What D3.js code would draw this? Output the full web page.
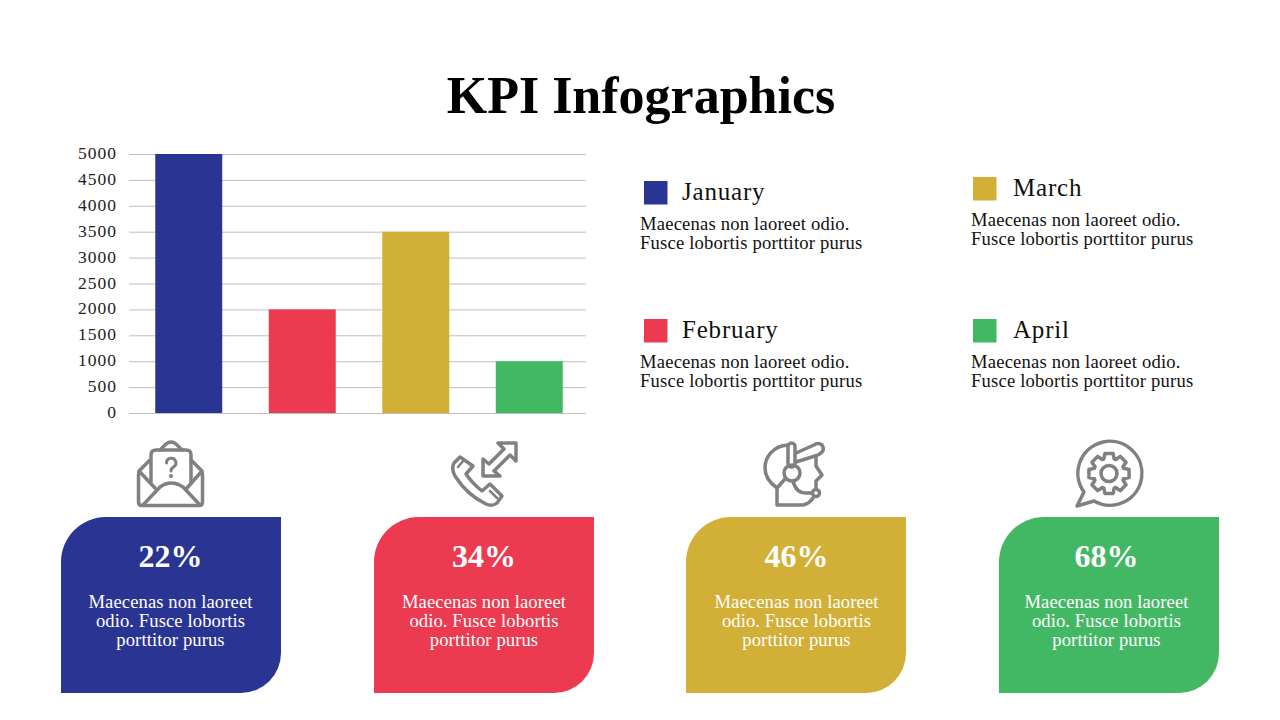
<!DOCTYPE html>
<html>
<head>
<meta charset="utf-8">
<script src="https://cdn.jsdelivr.net/npm/d3@7"></script>
<style>
html, body { margin: 0; padding: 0; background: #fff; }
svg { display: block; }
text { font-family: "Liberation Serif", serif; }
</style>
</head>
<body>
<div id="chart"></div>
<script>
var months = ['January', 'February', 'March', 'April'];
var values = [5000, 2000, 3500, 1000];
var yTicks = [0, 500, 1000, 1500, 2000, 2500, 3000, 3500, 4000, 4500, 5000];
var colors = ['#2a3593', '#ec3a50', '#d2af36', '#43b864'];
var percents = ['22%', '34%', '46%', '68%'];
var legendLines = ['Maecenas non laoreet odio.', 'Fusce lobortis porttitor purus'];
var cardLines = ['Maecenas non laoreet', 'odio. Fusce lobortis', 'porttitor purus'];

var svg = d3.select('#chart').append('svg').attr('width', 1280).attr('height', 720);

svg.append('text')
	.attr('x', 641).attr('y', 113)
	.attr('text-anchor', 'middle')
	.attr('font-size', 52).attr('font-weight', 'bold')
	.attr('fill', '#000')
	.text('KPI Infographics');

// bar chart
var x = d3.scaleBand().domain(months).range([132, 586]).paddingInner(0.41).paddingOuter(0.205);
var y = d3.scaleLinear().domain([0, 5000]).range([413, 154]);

var yAxis = d3.axisLeft(y).tickValues(yTicks).tickSize(457).tickPadding(12).tickFormat(d3.format('d'));
var axisG = svg.append('g').attr('transform', 'translate(586,0)').call(yAxis);
axisG.select('.domain').remove();
axisG.selectAll('.tick line').attr('stroke', '#bfbfbf').attr('stroke-width', 1);
axisG.selectAll('.tick text')
	.attr('font-family', '"Liberation Serif", serif')
	.attr('font-size', 17.5).attr('letter-spacing', 1).attr('fill', '#222')
	.attr('dy', '0.26em');

svg.selectAll('.bar').data(values).enter().append('rect')
	.attr('class', 'bar')
	.attr('x', (d, i) => x(months[i]))
	.attr('y', d => y(d))
	.attr('width', x.bandwidth())
	.attr('height', d => y(0) - y(d))
	.attr('fill', (d, i) => colors[i]);

// legend blocks
var legendX = [644, 644, 973, 973];
var legendY = [181, 319, 177, 319];
var legendG = svg.selectAll('.legend').data(months).enter().append('g').attr('class', 'legend')
	.attr('transform', (d, i) => `translate(${legendX[i]},${legendY[i]})`);
legendG.append('rect')
	.attr('width', 23.5).attr('height', 23.5)
	.attr('fill', (d, i) => colors[i]);
legendG.append('text')
	.attr('x', (d, i) => i < 2 ? 38 : 40).attr('y', 19)
	.attr('font-size', 25).attr('letter-spacing', 0.8).attr('fill', '#111')
	.text(d => d);
legendLines.forEach(function(line, k) {
	legendG.append('text')
		.attr('x', (d, i) => i < 2 ? -4 : -2).attr('y', 49 + k * 19)
		.attr('font-size', 18.6).attr('letter-spacing', 0.2).attr('fill', '#111')
		.text(line);
});

// cards
var cardX = [61, 374, 686, 999];
var cardCx = [170.5, 484, 796.5, 1106.5];
var cardG = svg.selectAll('.card').data(percents).enter().append('g').attr('class', 'card');
cardG.append('path')
	.attr('d', (d, i) => {
		var l = cardX[i], r = l + 220;
		return `M${l} 693V562A45 45 0 0 1 ${l + 45} 517H${r}V653A40 40 0 0 1 ${r - 40} 693Z`;
	})
	.attr('fill', (d, i) => colors[i]);
cardG.append('text')
	.attr('x', (d, i) => cardCx[i]).attr('y', 567)
	.attr('text-anchor', 'middle')
	.attr('font-size', 32).attr('font-weight', 'bold')
	.attr('fill', '#fff')
	.text(d => d);
cardLines.forEach(function(line, k) {
	cardG.append('text')
		.attr('x', (d, i) => cardCx[i]).attr('y', 608 + k * 19)
		.attr('text-anchor', 'middle')
		.attr('font-size', 18.6).attr('letter-spacing', 0.1).attr('fill', '#fff')
		.text(line);
});

// icons
var icons = svg.append('g')
	.attr('fill', 'none').attr('stroke', '#808080').attr('stroke-width', 3.5)
	.attr('stroke-linecap', 'round').attr('stroke-linejoin', 'round');

// envelope
var mail = icons.append('g');
mail.append('path').attr('d', 'M150 460L140 470Q138.500 472 138.500 475V502Q138.500 505.500 142 505.500H199Q202.500 505.500 202.500 502V475Q202.500 472 201 470L191 460');
mail.append('path').attr('d', 'M151 482V455Q151 450 156 450H186Q191 450 191 455V482');
mail.append('path').attr('d', 'M160 450L166 444Q171 440 176 444L182 450');
mail.append('path').attr('d', 'M143 505L160 487Q171 479 183 487L200 505');
mail.append('path').attr('d', 'M139 471L155 488M202 471L187 488');
mail.append('path').attr('stroke-width', 3).attr('d', 'M166.5 463A4.7 4.7 0 1 1 173.5 467Q171 468.500 171 471');
mail.append('circle').attr('cx', 171).attr('cy', 476).attr('r', 1).attr('stroke-width', 2);

// phone
var phone = icons.append('g');
phone.append('path').attr('d', 'M460 457L473 466L466 474Q472 483 482 491L490 484L502 496L497 503Q492 507 486 504Q467 495 455 476Q451 469 454 463Z');
phone.append('path').attr('d', 'M464 460L458 467M490 491L497 498').attr('stroke-width', 2.500);
phone.append('path').attr('d', 'M498 443H516V461L510 455L494 471L500 476H483V459L489 464L504 449Z');

// headset
var agent = icons.append('g');
agent.append('path').attr('d', 'M788 445C772 446 765 458 765 468C765 477 770 483 777 488V505H803C808 504 811 501 813 498');
agent.append('path').attr('d', 'M796 453L814 445Q818 442 822 445Q825 450 821 453Q819 455 815 456L796 462');
agent.append('path').attr('d', 'M816 457L816 466L822 475L816 481L816 488');
agent.append('rect').attr('x', 788).attr('y', 443).attr('width', 7).attr('height', 24).attr('rx', 3.500);
agent.append('circle').attr('cx', 792).attr('cy', 473).attr('r', 8);
agent.append('path').attr('d', 'M793 481Q796 493 806 493H812');
agent.append('circle').attr('cx', 816).attr('cy', 493).attr('r', 3.500);
agent.append('path').attr('d', 'M777 488L785 479');

// chat bubble with gear
var bubble = icons.append('g');
bubble.append('path').attr('d', 'M1084 492A32 32 0 1 1 1094 501L1077 506Z');
var gearPts = [];
d3.range(8).forEach(function(i) {
	var a = i * Math.PI / 4;
	[[-0.34, 15.5], [-0.2, 20.5], [0.2, 20.5], [0.34, 15.5]].forEach(function(p) {
		gearPts.push([1109 + p[1] * Math.cos(a + p[0]), 473.5 + p[1] * Math.sin(a + p[0])]);
	});
});
bubble.append('path').attr('d', d3.line()(gearPts) + 'Z');
bubble.append('circle').attr('cx', 1109).attr('cy', 473.5).attr('r', 8);
</script>
</body>
</html>
